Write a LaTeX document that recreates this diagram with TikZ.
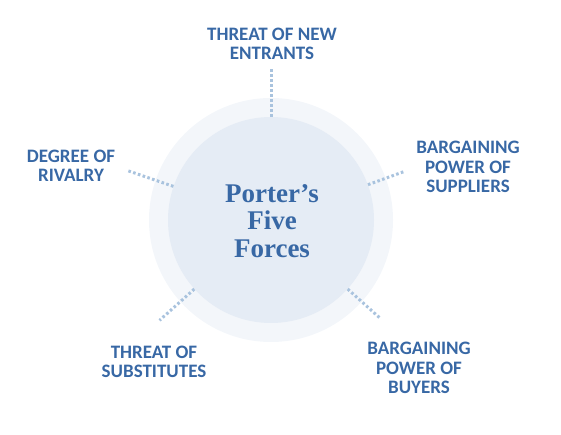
\documentclass[tikz,border=0pt]{standalone}
\usepackage{fontspec}
\usepackage{tikz}
\usetikzlibrary{positioning}

\newfontfamily\forcefont{Carlito}
\newfontfamily\titlefont{Liberation Serif}

\definecolor{forceblue}{HTML}{3868A5}
\definecolor{dotblue}{HTML}{A9C3DE}
\definecolor{ringfill}{HTML}{F3F6FA}
\definecolor{corefill}{HTML}{E5ECF5}

\begin{document}
\begin{tikzpicture}[
        x=1pt, y=1pt,
        force/.style={
            text=forceblue,
            align=center,
            font=\forcefont\bfseries\fontsize{19}{19.5}\selectfont
        },
        title/.style={
            text=forceblue,
            align=center,
            font=\titlefont\bfseries\fontsize{27}{27.5}\selectfont
        },
        dots/.style={draw=dotblue, line width=3pt, dash pattern=on 2.6pt off 2.4pt}
    ]
        \useasboundingbox (0,0) rectangle (561,435);

        % Circles
        \node [circle, fill=ringfill, minimum size=244pt, inner sep=0pt] (ring) at (271,215) {};
        \node [circle, fill=corefill, minimum size=206pt, inner sep=0pt] (core) at (271,215) {};
        \node [title] (porter) at (272,214) {Porter’s\\Five\\Forces};

        % Forces
        \node [force] (entrants) at (272,391) {THREAT OF NEW\\ENTRANTS};
        \node [force] (rivalry) at (71,269) {DEGREE OF\\RIVALRY};
        \node [force] (suppliers) at (468,268) {BARGAINING\\POWER OF\\SUPPLIERS};
        \node [force] (substitutes) at (154,73) {THREAT OF\\SUBSTITUTES};
        \node [force] (buyers) at (419,67) {BARGAINING\\POWER OF\\BUYERS};

        % Free ends of the dotted lines
        \coordinate (entrantsEnd) at ([shift={(90:152)}]core.center);
        \coordinate (rivalryEnd) at ([shift={(161:152)}]core.center);
        \coordinate (suppliersEnd) at ([shift={(20:142)}]core.center);
        \coordinate (substitutesEnd) at ([shift={(222:150)}]core.center);
        \coordinate (buyersEnd) at ([shift={(-42:148)}]core.center);

        % Paths
        \path [dots] (core.90) -- (entrantsEnd);
        \path [dots] (core.161) -- (rivalryEnd);
        \path [dots] (core.20) -- (suppliersEnd);
        \path [dots] (core.222) -- (substitutesEnd);
        \path [dots] (core.-42) -- (buyersEnd);
    \end{tikzpicture}
\end{document}
